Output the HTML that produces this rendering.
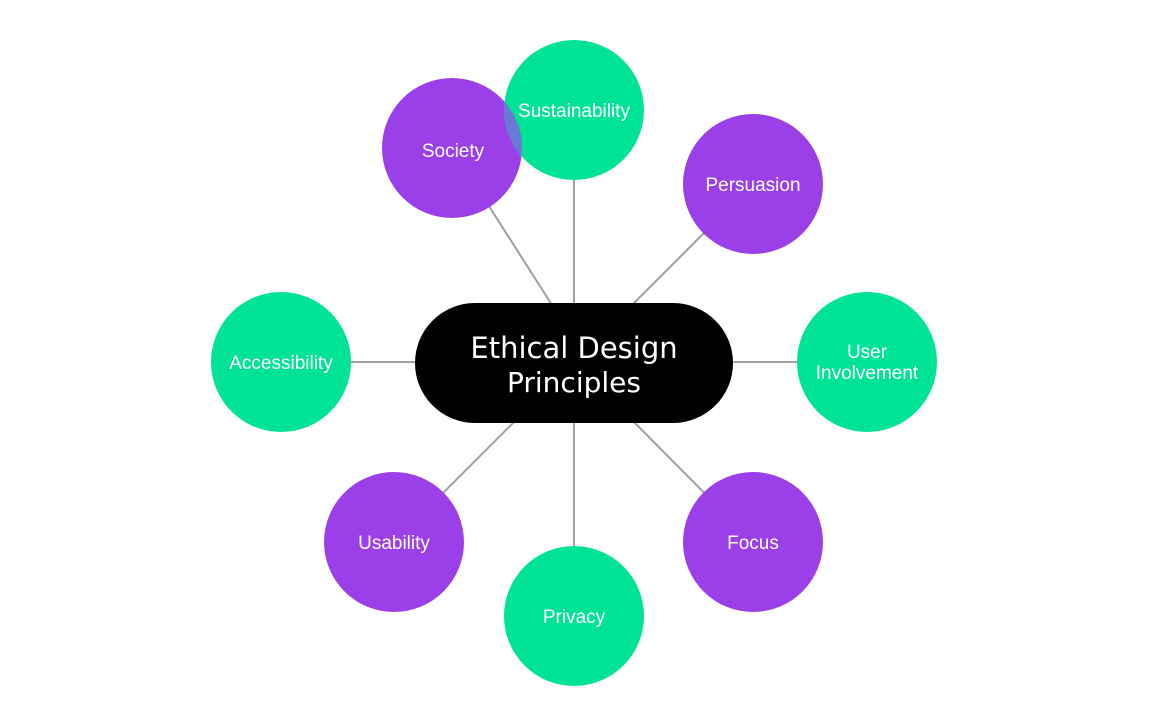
<!DOCTYPE html>
<html><head><meta charset="utf-8"><style>
html,body{margin:0;padding:0;background:#fff;}
svg{display:block;}
text{font-family:"Liberation Sans","DejaVu Sans",sans-serif;fill:#fff;text-anchor:middle;}
</style></head><body>
<svg width="1170" height="725" viewBox="0 0 1170 725">
<defs>
<clipPath id="cs"><circle cx="574" cy="110" r="70"/></clipPath>
</defs>
<g stroke="#a0a0a0" stroke-width="2">
<line x1="452" y1="148" x2="552" y2="305"/>
<line x1="574" y1="110" x2="574" y2="305"/>
<line x1="753" y1="184" x2="632" y2="305"/>
<line x1="281" y1="362" x2="420" y2="362"/>
<line x1="867" y1="362" x2="730" y2="362"/>
<line x1="394" y1="542" x2="516" y2="420"/>
<line x1="574" y1="616" x2="574" y2="420"/>
<line x1="753" y1="542" x2="632" y2="420"/>
</g>
<rect x="415" y="303" width="318" height="120" rx="60" fill="#000"/>
<text x="574" y="358" font-size="29" style="font-family:'DejaVu Sans','Liberation Sans',sans-serif" font-size="28">Ethical Design</text>
<text x="574" y="392" font-size="28" style="font-family:'DejaVu Sans','Liberation Sans',sans-serif">Principles</text>

<circle cx="452" cy="148" r="70" fill="#9b3fe8"/>
<circle cx="574" cy="110" r="70" fill="#00e396"/>
<circle cx="452" cy="148" r="70" fill="#6a78d6" clip-path="url(#cs)"/>
<circle cx="753" cy="184" r="70" fill="#9b3fe8"/>
<circle cx="281" cy="362" r="70" fill="#00e396"/>
<circle cx="867" cy="362" r="70" fill="#00e396"/>
<circle cx="394" cy="542" r="70" fill="#9b3fe8"/>
<circle cx="574" cy="616" r="70" fill="#00e396"/>
<circle cx="753" cy="542" r="70" fill="#9b3fe8"/>

<g font-size="19">
<text x="453" y="157">Society</text>
<text x="574" y="117">Sustainability</text>
<text x="753" y="191">Persuasion</text>
<text x="281" y="369">Accessibility</text>
<text x="867" y="358">User</text>
<text x="867" y="379">Involvement</text>
<text x="394" y="549">Usability</text>
<text x="574" y="623">Privacy</text>
<text x="753" y="549">Focus</text>
</g>
</svg>
</body></html>
